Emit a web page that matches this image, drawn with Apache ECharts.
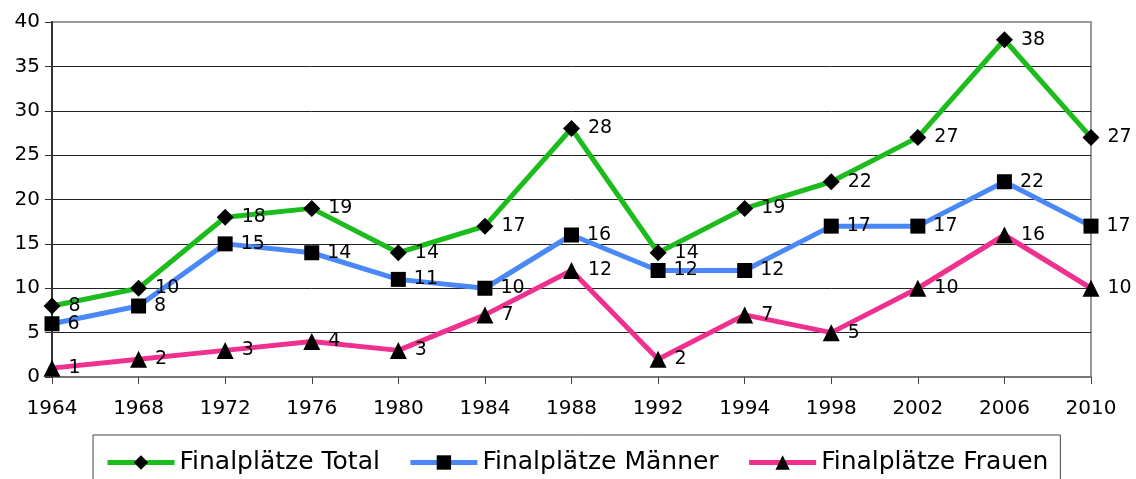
<!DOCTYPE html>
<html>
<head>
<meta charset="utf-8">
<title>Finalplätze</title>
<script src="https://cdn.jsdelivr.net/npm/echarts@6/dist/echarts.min.js"></script>
<style>
  html, body { margin: 0; padding: 0; background: #fff; }
  #chart { width: 1136px; height: 479px; }
</style>
</head>
<body>
<div id="chart"></div>
<script>
// Jahre und Werte
var years = ['1964', '1968', '1972', '1976', '1980', '1984', '1988', '1992', '1994', '1998', '2002', '2006', '2010'];
var total = [8, 10, 18, 19, 14, 17, 28, 14, 19, 22, 27, 38, 27];
var maenner = [6, 8, 15, 14, 11, 10, 16, 12, 12, 17, 17, 22, 17];
var frauen = [1, 2, 3, 4, 3, 7, 12, 2, 7, 5, 10, 16, 10];

var FONT = 'DejaVu Sans, Verdana, sans-serif';

function lineSeries(name, data, color, symbol, size) {
    return {
        name: name,
        type: 'line',
        data: data,
        symbol: symbol,
        symbolSize: size,
        showAllSymbol: true,
        lineStyle: { color: color, width: 5 },
        itemStyle: { color: '#000', borderWidth: 0 },
        label: {
            show: true,
            position: 'right',
            distance: 8,
            color: '#000',
            fontSize: 19,
            fontFamily: FONT
        },
        emphasis: { disabled: true },
        animation: false
    };
}

var chart = echarts.init(document.getElementById('chart'));
chart.setOption({
    backgroundColor: '#fff',
    textStyle: { fontFamily: FONT },
    grid: {
        left: 52, right: 45, top: 22, bottom: 102,
        show: true,
        borderColor: '#999',
        borderWidth: 2,
        backgroundColor: 'transparent'
    },
    legend: {
        left: 93,
        top: 435,
        padding: [15, 12, 14, 12],
        borderColor: '#444',
        borderWidth: 1,
        itemWidth: 67,
        itemHeight: 18,
        itemGap: 28,
        lineStyle: { width: 5 },
        textStyle: { fontSize: 25, color: '#000', fontFamily: FONT },
        data: ['Finalplätze Total', 'Finalplätze Männer', 'Finalplätze Frauen']
    },
    xAxis: {
        type: 'category',
        data: years,
        boundaryGap: false,
        axisLine: { lineStyle: { color: '#777', width: 2 } },
        axisTick: { show: true, length: 7, alignWithLabel: true, lineStyle: { color: '#444' } },
        axisLabel: { color: '#000', fontSize: 20, margin: 22, interval: 0, fontFamily: FONT },
        splitLine: { show: false }
    },
    yAxis: {
        type: 'value',
        min: 0,
        max: 40,
        interval: 5,
        axisLine: { show: true, lineStyle: { color: '#333', width: 2 } },
        axisTick: { show: true, length: 7, lineStyle: { color: '#333' } },
        axisLabel: { color: '#000', fontSize: 20, margin: 12, fontFamily: FONT },
        splitLine: { show: true, showMinLine: false, showMaxLine: false, lineStyle: { color: '#222', width: 1 } }
    },
    series: [
        lineSeries('Finalplätze Total', total, '#1cbc1c', 'diamond', 17),
        lineSeries('Finalplätze Männer', maenner, '#4a88f8', 'rect', 15),
        lineSeries('Finalplätze Frauen', frauen, '#f0308f', 'triangle', 17)
    ]
});
</script>
</body>
</html>
